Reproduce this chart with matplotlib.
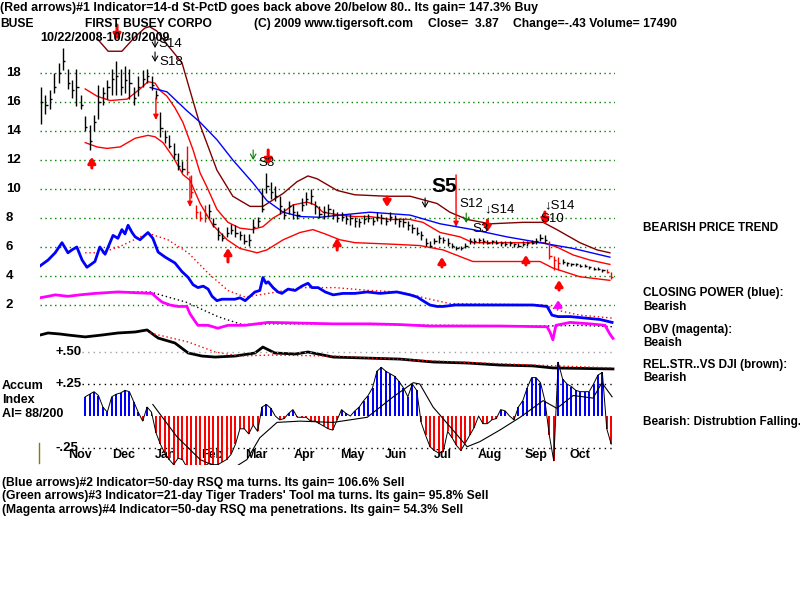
import matplotlib
matplotlib.use('Agg')
import matplotlib.pyplot as plt
import matplotlib.transforms as mtransforms
from matplotlib.lines import Line2D
import numpy as np

plt.rcParams['font.family'] = ['Liberation Sans', 'DejaVu Sans']

# ---------------- data (one bar = 2 trading days, 10/22/2008 - 10/30/2009) -------------
close = [16.0, 15.8, 16.2, 17.0, 18.0, 18.8, 17.3, 16.8, 17.0, 15.8,
         14.3, 13.3, 14.6, 16.0, 16.6, 17.0, 17.6, 17.8, 17.0, 17.5,
         17.3, 16.3, 17.0, 17.6, 17.8, 17.2, 16.5, 14.2, 13.6, 13.0,
         12.4, 11.6, 11.4, 11.2, 9.8, 8.4, 8.0, 8.2, 8.5, 7.6,
         6.8, 6.6, 7.0, 7.2, 7.0, 6.8, 6.4, 6.5, 7.4, 7.8,
         8.6, 10.2, 9.8, 9.5, 8.8, 8.2, 8.8, 8.4, 8.2, 8.9,
         9.3, 9.5, 8.8, 8.3, 8.4, 8.6, 8.2, 8.0, 8.1, 7.9,
         8.0, 7.8, 7.7, 7.9, 8.0, 7.8, 8.1, 8.0, 7.8, 8.1,
         7.9, 7.8, 7.7, 7.5, 7.3, 7.0, 6.8, 6.3, 6.1, 6.4,
         6.6, 6.5, 6.3, 6.1, 5.9, 5.9, 6.1, 6.4, 6.4, 6.5,
         6.4, 6.3, 6.4, 6.3, 6.3, 6.2, 6.3, 6.2, 6.1, 6.2,
         6.3, 6.3, 6.4, 6.6, 6.5, 5.4, 5.1, 4.9, 5.0, 4.9,
         4.8, 4.8, 4.7, 4.7, 4.6, 4.5, 4.5, 4.4, 4.3, 3.9]
high = [17.0, 16.5, 16.8, 18.0, 18.7, 19.7, 18.3, 17.5, 18.3, 16.5,
        15.0, 14.4, 15.1, 17.2, 17.0, 17.5, 18.3, 18.8, 18.3, 18.5,
        18.3, 17.0, 17.8, 18.2, 18.3, 17.8, 16.8, 15.3, 14.1, 13.7,
        13.2, 12.5, 11.9, 13.0, 11.0, 8.9, 8.5, 8.9, 9.0, 8.0,
        7.4, 7.0, 7.4, 7.6, 7.5, 7.1, 6.9, 6.9, 7.9, 8.1,
        10.1, 11.1, 10.5, 10.2, 9.5, 8.7, 9.2, 9.0, 8.5, 9.4,
        9.8, 10.0, 9.2, 8.8, 8.8, 9.0, 8.6, 8.4, 8.4, 8.2,
        8.3, 8.1, 8.0, 8.2, 8.3, 8.1, 8.4, 8.3, 8.1, 8.4,
        8.2, 8.0, 8.0, 7.8, 7.6, 7.4, 7.1, 6.6, 6.4, 6.6,
        6.8, 6.7, 6.6, 6.3, 6.1, 6.1, 6.3, 6.6, 6.6, 6.6,
        6.6, 6.5, 6.5, 6.5, 6.4, 6.4, 6.4, 6.3, 6.3, 6.4,
        6.4, 6.5, 6.6, 6.9, 6.8, 6.4, 5.4, 5.3, 5.2, 5.0,
        4.9, 4.9, 4.8, 4.8, 4.7, 4.6, 4.6, 4.5, 4.5, 4.3]
low = [14.5, 15.2, 15.5, 16.6, 17.3, 18.2, 16.9, 16.3, 15.7, 15.5,
       14.0, 12.7, 14.0, 14.8, 15.8, 16.2, 16.5, 16.5, 16.5, 16.6,
       16.2, 15.8, 16.4, 17.0, 17.3, 16.8, 16.2, 13.6, 13.2, 12.8,
       12.1, 11.3, 11.2, 11.0, 9.4, 8.0, 7.8, 7.7, 8.0, 7.4,
       6.5, 6.4, 6.7, 6.9, 6.7, 6.5, 6.2, 6.1, 7.0, 7.4,
       8.4, 9.7, 9.3, 9.2, 8.3, 7.9, 8.3, 7.9, 7.9, 8.5,
       8.9, 9.0, 8.3, 8.0, 7.9, 8.1, 7.9, 7.7, 7.8, 7.6,
       7.5, 7.4, 7.4, 7.6, 7.7, 7.5, 7.8, 7.6, 7.5, 7.8,
       7.6, 7.4, 7.4, 7.2, 7.0, 6.8, 6.5, 6.1, 6.0, 6.2,
       6.3, 6.3, 6.1, 5.9, 5.8, 5.8, 5.9, 6.2, 6.2, 6.3,
       6.2, 6.2, 6.2, 6.2, 6.1, 6.1, 6.1, 6.0, 6.0, 6.1,
       6.1, 6.2, 6.2, 6.4, 6.3, 5.2, 4.4, 4.4, 4.8, 4.7,
       4.7, 4.7, 4.6, 4.6, 4.5, 4.4, 4.4, 4.3, 4.2, 3.8]
red_bars = [33, 34, 35, 36, 37, 115, 116, 117, 128, 129]

month_labels = ['Nov', 'Dec', 'Jan', 'Feb', 'Mar', 'Apr', 'May', 'Jun', 'Jul', 'Aug', 'Sep', 'Oct']
month_pos = [8.8, 18.6, 28.3, 38.7, 48.6, 59.5, 70.4, 80.3, 91.0, 101.6, 112.0, 122.0]

price_levels = [18, 16, 14, 12, 10, 8, 6, 4, 2]

# bands / moving averages (bar index, value)
upper_x = [10, 12.7, 15.6, 19.5, 22.4, 24.2, 25.8, 26.9, 28.5, 30.3, 32.1, 34.4, 36, 37.6, 39.8,
           42.3, 45, 47.7, 50.2, 52.5, 54.8, 57, 60.2, 62, 63.8, 67.6, 71, 74.4, 79, 83.5, 86.4,
           90.3, 94.8, 97.7, 103.8, 113.6, 116.7, 120.4, 124.2, 128.7]
upper_v = [16.9, 16.4, 16.1, 16.2, 16.9, 17.4, 17.3, 16.8, 16.4, 15.6, 14.6, 12.7, 11.1, 10.1, 8.6,
           7.7, 7.3, 7.2, 7.4, 8.0, 8.4, 8.9, 9.1, 8.9, 8.4, 8.2, 8.1, 8.1, 7.9, 7.9, 7.7,
           7.0, 6.7, 6.3, 6.3, 6.3, 6.0, 5.45, 5.1, 4.8]
lower_x = [10, 12.7, 14.9, 17.9, 21.3, 24.2, 25.8, 27.6, 29.9, 32.1, 33.7, 36, 38.9, 42.1, 45,
           48.9, 51.1, 54.8, 58.6, 61.5, 64.3, 67.6, 71, 79, 85.7, 90.95, 97.7, 105.4, 112.9,
           115.8, 121.9, 128.7]
lower_v = [13.2, 12.9, 12.8, 12.9, 13.5, 13.7, 13.6, 13.2, 12.2, 11.0, 10.6, 9.0, 7.5, 6.5, 5.9,
           5.6, 5.8, 6.5, 7.0, 7.2, 6.9, 6.5, 6.3, 6.2, 6.1, 5.8, 5.0, 5.0, 5.0,
           4.55, 3.95, 3.7]
ma50_x = [24.7, 28.5, 33, 36, 39.8, 43.4, 48, 51.1, 54.8, 58.6, 63.1, 67.6, 74.4, 83.5, 90.3,
          97.7, 105.4, 112.9, 120.4, 128.7]
ma50_v = [17.0, 16.7, 15.4, 14.6, 13.4, 12.0, 10.4, 9.2, 8.4, 8.1, 8.05, 8.2, 8.4, 8.2, 7.6,
          7.2, 6.7, 6.3, 5.9, 5.3]
brown_x = [12.9, 15.2, 18.3, 21.3, 23.5, 24.5, 26.2, 28.7, 31.9, 33.7, 36, 39.8, 43.4, 47.3, 50.2,
           54.8, 57.9, 60.4, 62.5, 67, 71, 78.3, 83.5, 89.6, 92.5, 96.4, 101.6, 109, 113.6,
           116.7, 121.9, 125.8, 128.7]
brown_v = [20.3, 19.5, 19.5, 20.5, 21.1, 21.2, 20.9, 19.9, 18.7, 16.8, 14.4, 11.3, 9.5, 8.8, 8.8,
           9.7, 10.5, 10.9, 10.7, 9.9, 9.6, 9.5, 9.5, 9.0, 8.4, 7.9, 7.6, 7.7, 7.7,
           7.2, 6.3, 5.8, 5.6]

# closing power (blue), its ma (red dotted)
cp_x = [-0.2, 1.6, 3.2, 4.75, 6.1, 7, 8.1, 9.3, 10.4, 12.2, 13.3, 14.5, 16.3, 17.4, 18.3, 19,
        19.7, 20.6, 21.3, 22.4, 24.2, 25.3, 26.5, 28.1, 30.3, 31.9, 33.3, 34.4, 35.5, 36.7,
        37.8, 38.7, 39.8, 40.95, 42.3, 43.9, 45, 46.2, 47.3, 48.4, 49.5, 50.2, 50.9, 51.4,
        52.5, 53.6, 54.5, 55.9, 57.5, 59, 60.4, 61.3, 62.7, 64.3, 66.1, 68.3, 71, 73.8, 76.7,
        80.5, 83.5, 85.1, 86.9, 88, 89.6, 90.95, 93.7, 96.4, 103.8, 111.3, 114.5, 115.6, 117,
        119.7, 123.1, 126.5, 129.2]
cp_v = [4.7, 5.1, 5.6, 6.3, 5.6, 5.8, 6.0, 5.1, 4.6, 5.0, 6.0, 5.5, 6.8, 6.6, 7.2, 6.9,
        7.5, 7.0, 6.7, 6.5, 7.0, 6.6, 5.65, 5.3, 4.9, 4.3, 3.9, 3.4, 3.2, 3.3,
        3.1, 2.6, 2.3, 2.4, 2.4, 2.4, 2.5, 2.3, 2.6, 2.9, 3.0, 3.9, 3.5, 3.6,
        3.2, 2.9, 2.8, 3.1, 3.0, 3.3, 3.5, 3.2, 3.2, 2.9, 2.7, 2.8, 2.8, 2.9, 2.8,
        2.9, 2.7, 2.55, 2.2, 2.0, 1.9, 1.9, 2.0, 2.0, 2.0, 2.0, 1.9, 1.3, 1.2,
        1.2, 1.1, 1.0, 0.8]
cpma_x = [10, 13.8, 18.3, 24.2, 28.7, 33.3, 37.8, 42.3, 46.2, 51.4, 59, 66.5, 74.4, 81.2, 88,
          92.5, 103.8, 114, 117.4, 121.9, 129.2]
cpma_v = [5.6, 5.6, 6.1, 6.95, 6.5, 5.6, 4.2, 3.0, 2.55, 2.8, 3.2, 3.2, 3.0, 2.9, 2.4,
          2.1, 2.05, 2.0, 1.6, 1.3, 1.1]

# OBV (magenta), its ma (black dotted)
obv_x = [-0.2, 1.6, 3.2, 6.1, 8.8, 12.2, 17.4, 21.3, 25.1, 26.2, 27.4, 29.2, 31, 33, 33.7, 34.8,
         35.5, 37.8, 40, 42.3, 46.2, 51.4, 59, 66.1, 74.4, 81.2, 88, 103.8, 114.5, 115.2, 115.8,
         116.5, 119.7, 124.2, 127.6, 128.7, 129.4]
obv_v = [2.5, 2.6, 2.7, 2.6, 2.7, 2.8, 2.9, 2.85, 2.8, 2.5, 2.2, 2.0, 1.9, 1.9, 1.4, 0.9,
         0.6, 0.6, 0.4, 0.6, 0.6, 0.8, 0.75, 0.7, 0.7, 0.65, 0.55, 0.55, 0.5, 0.1, -0.4,
         0.6, 0.8, 0.7, 0.6, 0.0, -0.3]
obvma_x = [16.1, 24.7, 32.8, 40, 45.5, 51.8, 66.1, 88, 114.5, 121.9, 129.4]
obvma_v = [2.9, 2.9, 2.2, 1.2, 0.65, 0.7, 0.7, 0.6, 0.55, 0.6, 0.5]

# relative strength vs DJI (black), its ma (red dotted)
rs_x = [-0.2, 1.6, 4.3, 6.1, 10, 13.8, 17.4, 21.3, 24, 26.5, 30.3, 33.3, 36.4, 39.4, 43.9, 48.4,
        50.2, 52.9, 57.5, 60.4, 66.1, 73.8, 81.2, 88.7, 96.4, 103.8, 111.3, 115.8, 129.4]
rs_v = [-0.07, 0.07, 0.0, -0.07, -0.2, -0.07, 0.07, 0.14, 0.28, -0.28, -0.62, -1.31, -1.52, -1.59,
        -1.52, -1.31, -0.9, -1.31, -1.38, -1.24, -1.59, -1.66, -1.73, -1.93, -2.0, -2.14, -2.2,
        -2.34, -2.41]
rsma_x = [24.7, 33.3, 39.4, 45, 51.8, 66.1, 88.7, 111.3, 129.4]
rsma_v = [0.07, -0.55, -1.24, -1.52, -1.45, -1.52, -1.86, -2.14, -2.34]

# accumulation index (bars 10..129) and its ma
ai_start = 10
ai_values = [0.15, 0.17, 0.19, 0.16, 0.07, 0.03, 0.15, 0.17, 0.18, 0.2,
             0.19, 0.11, 0.03, -0.04, 0.07, 0.03, -0.13, -0.22, -0.29, -0.34,
             -0.38, -0.33, -0.34, -0.4, -0.5, -0.5, -0.43, -0.39, -0.37, -0.38,
             -0.38, -0.36, -0.34, -0.3, -0.22, -0.1, -0.1, -0.14, -0.07, -0.12,
             0.07, 0.09, 0.06, 0.0, -0.03, -0.02, 0.02, 0.05, -0.01, -0.01,
             -0.01, -0.04, -0.04, -0.06, -0.08, -0.1, -0.11, -0.03, 0.05, 0.02,
             0.0, 0.04, 0.07, 0.12, 0.16, 0.22, 0.35, 0.38, 0.35, 0.33,
             0.31, 0.27, 0.22, 0.15, 0.25, 0.2, -0.05, -0.15, -0.24, -0.27,
             -0.29, -0.28, -0.12, -0.17, -0.23, -0.27, -0.21, -0.15, -0.09, 0.0,
             -0.06, -0.06, -0.03, -0.02, 0.05, 0.04, 0.0, -0.03, 0.07, 0.12,
             0.22, 0.3, 0.3, 0.26, 0.12, -0.15, -0.35, 0.42, 0.29, 0.25,
             0.23, 0.2, 0.19, 0.19, 0.19, 0.25, 0.32, 0.34, -0.1, -0.22]
aima_x = [25.3, 30.7, 36, 39.8, 43.4, 46.6, 49.5, 53.4, 58.6, 66.1, 73.8, 79.7, 84.2, 85.7, 88.7,
          93.2, 96.4, 99.3, 103.8, 108.4, 113.6, 116.7, 120.4, 124.9, 126.9, 129.2]
aima_v = [0.09, -0.16, -0.34, -0.4, -0.41, -0.34, -0.17, -0.05, -0.04, -0.05, -0.01, 0.15, 0.26,
          0.25, 0.07, -0.11, -0.24, -0.2, -0.11, -0.01, 0.12, 0.06, 0.16, 0.14, 0.26, 0.15]
ai_levels = [0.50, 0.25, -0.25]
ai_level_labels = ['+.50', '+.25', '-.25']

# signal arrows: (bar index, from value, to value)
red_up = [(11.5, 11.45, 12.21), (42.3, 4.97, 5.93), (67.0, 5.79, 6.62), (90.7, 4.62, 5.31),
          (109.7, 4.76, 5.45), (117.2, 3.03, 3.72)]
red_down = [(17.2, 21.31, 20.28), (51.4, 12.69, 11.66), (78.3, 9.45, 8.76), (101.0, 7.86, 7.03),
            (114.0, 8.41, 7.52)]
red_down_thin = [(26.0, 16.28, 14.76), (33.7, 10.83, 8.76), (93.9, 10.97, 7.38)]
black_down = [(25.8, 20.45, 19.72), (25.8, 19.45, 18.76), (86.9, 9.38, 8.69)]
green_down = [(48.0, 12.69, 12.0), (96.2, 8.34, 7.66)]
magenta_up = [(117.0, 1.79, 2.34)]
signal_labels = [('S14', 26.6, 20.0), ('S18', 26.9, 18.76), ('S3', 49.3, 11.8),
                 ('S12', 94.6, 8.95), ('\u2193S14', 100.3, 8.62), ('S3', 97.5, 7.24),
                 ('\u2193S14', 113.8, 8.9), ('S10', 112.9, 7.9)]

# ---------------- figure -------------------------------------------------------------
W, H = 800, 600
fig = plt.figure(figsize=(8, 6), dpi=100)
fig.patch.set_facecolor('white')


def fx(x):
    return x / W


def fy(y):
    return 1 - y / H


ax = fig.add_axes([fx(40), fy(465), 575 / W, 445 / H])
ax.set_xlim(-0.226, 129.86)
ax.set_ylim(-9.034, 21.655)
ax.axis('off')
ax2 = ax.twinx()
ax2.set_ylim(-0.3828, 3.0938)
ax2.axis('off')

# grid
ax.hlines(price_levels, -0.2, 129.9, colors='#008000', linestyles=(0, (1, 2.5)), lw=1, zorder=1)

# bands / MAs
ax.plot(brown_x, brown_v, color='#800000', lw=1, zorder=2)
ax.plot(upper_x, upper_v, color='#ff0000', lw=1, zorder=2)
ax.plot(lower_x, lower_v, color='#ff0000', lw=1, zorder=2)
ax.plot(ma50_x, ma50_v, color='#0000ff', lw=1, zorder=2)

# price bars
idx = np.arange(len(close))
bar_colors = ['#ff0000' if i in red_bars else 'black' for i in idx]
ax.vlines(idx, low, high, colors=bar_colors, lw=1, zorder=3)
ax.hlines(close, idx, idx + 0.5, colors=bar_colors, lw=1, zorder=3)

# indicators
ax.plot(cpma_x, cpma_v, color='#ff0000', lw=1, ls=(0, (1, 2)), zorder=2)
ax.plot(cp_x, cp_v, color='#0000ff', lw=2, zorder=3)
ax.plot(obvma_x, obvma_v, color='black', lw=1, ls=(0, (1, 2)), zorder=2)
ax.plot(obv_x, obv_v, color='#ff00ff', lw=2, zorder=3)
ax.plot(rs_x, rs_v, color='black', lw=2, zorder=3)
ax.plot(rsma_x, rsma_v, color='#ff0000', lw=1, ls=(0, (1, 2)), zorder=4)


def arrow(a, x, y0, y1, color, lw, style):
    a.annotate('', xy=(x, y1), xytext=(x, y0),
               arrowprops=dict(arrowstyle=style, color=color, lw=lw, shrinkA=0, shrinkB=0,
                               mutation_scale=10),
               zorder=6)


for x, y0, y1 in red_up + red_down:
    arrow(ax, x, y0, y1, '#ff0000', 2.2, '-|>,head_width=0.22,head_length=0.35')
for x, y0, y1 in red_down_thin:
    arrow(ax, x, y0, y1, '#ff0000', 1, '-|>,head_width=0.15,head_length=0.3')
for x, y0, y1 in black_down:
    arrow(ax, x, y0, y1, 'black', 0.8, '->,head_width=0.2,head_length=0.35')
for x, y0, y1 in green_down:
    arrow(ax, x, y0, y1, '#008000', 0.8, '->,head_width=0.2,head_length=0.35')
for x, y0, y1 in magenta_up:
    arrow(ax, x, y0, y1, '#ff00ff', 2, '-|>,head_width=0.22,head_length=0.35')

for txt, x, y in signal_labels:
    ax.text(x, y, txt, fontsize=9.5, ha='left', va='center', color='black', zorder=7)
ax.text(88.3, 10.2, 'S5', fontsize=15, fontweight='bold', ha='left', va='center', zorder=7)

# accumulation index
ai_idx = np.arange(ai_start, ai_start + len(ai_values))
ai_cols = ['#0000ff' if v >= 0 else '#ff0000' for v in ai_values]
ax2.hlines(ai_levels, 9.3, 129.9, colors=['#a0a0a0', 'black', 'black'],
           linestyles=(0, (1, 3)), lw=1, zorder=1)
for lab, pos in zip(month_labels, month_pos):
    ax2.text(pos, -0.305, lab, fontsize=9, fontweight='bold', ha='center', va='center', zorder=1)
ax2.bar(ai_idx, ai_values, width=0.45, color=ai_cols, zorder=2)
ax2.plot(ai_idx, ai_values, color='black', lw=0.7, zorder=3)
ax2.plot(aima_x, aima_v, color='black', lw=0.8, zorder=3)

# y labels
tr_p = mtransforms.blended_transform_factory(fig.transFigure, ax.transData)
for lv in price_levels:
    ax.text(fx(6), lv, str(lv), transform=tr_p, fontsize=9.5, fontweight='bold',
            ha='left', va='center')
tr_a = mtransforms.blended_transform_factory(fig.transFigure, ax2.transData)
for lv, lab in zip(ai_levels, ai_level_labels):
    ax2.text(fx(55), lv, lab, transform=tr_a, fontsize=9.5, fontweight='bold',
             ha='left', va='center')

fig.add_artist(Line2D([fx(39), fx(39)], [fy(443), fy(463)], color='#808000', lw=1))

# header texts
bold = dict(fontweight='bold', va='center', ha='left')
fig.text(fx(0), fy(8), '(Red arrows)#1 Indicator=14-d St-PctD goes back above 20/below 80.. Its gain= 147.3% Buy',
         fontsize=8.9, **bold)
fig.text(fx(0), fy(24), 'BUSE', fontsize=8.7, **bold)
fig.text(fx(85), fy(24), 'FIRST BUSEY CORPO', fontsize=8.7, **bold)
fig.text(fx(254), fy(24), '(C) 2009 www.tigersoft.com', fontsize=8.7, **bold)
fig.text(fx(428), fy(24), 'Close=  3.87', fontsize=8.7, **bold)
fig.text(fx(513), fy(24), 'Change=-.43 Volume= 17490', fontsize=8.7, **bold)
fig.text(fx(40), fy(38), '10/22/2008-10/30/2009', fontsize=9, **bold)

# left AI labels
fig.text(fx(2), fy(386), 'Accum', fontsize=9, **bold)
fig.text(fx(2), fy(400), 'Index', fontsize=9, **bold)
fig.text(fx(2), fy(414), 'AI= 88/200', fontsize=9, **bold)

# right-side texts
right = [('BEARISH PRICE TREND', 228), ('CLOSING POWER (blue):', 293), ('Bearish', 307),
         ('OBV (magenta):', 330), ('Beaish', 343), ('REL.STR..VS DJI (brown):', 365),
         ('Bearish', 378), ('Bearish: Distrubtion Falling.', 422)]
for txt, y in right:
    fig.text(fx(643), fy(y), txt, fontsize=8.5, **bold)

# bottom texts
fig.text(fx(2), fy(483), '(Blue arrows)#2 Indicator=50-day RSQ ma turns. Its gain= 106.6% Sell', fontsize=8.7, **bold)
fig.text(fx(2), fy(496), "(Green arrows)#3 Indicator=21-day Tiger Traders' Tool ma turns. Its gain= 95.8% Sell", fontsize=8.7, **bold)
fig.text(fx(2), fy(510), '(Magenta arrows)#4 Indicator=50-day RSQ ma penetrations. Its gain= 54.3% Sell', fontsize=8.7, **bold)

fig.savefig('out.png', dpi=100, facecolor='white')
